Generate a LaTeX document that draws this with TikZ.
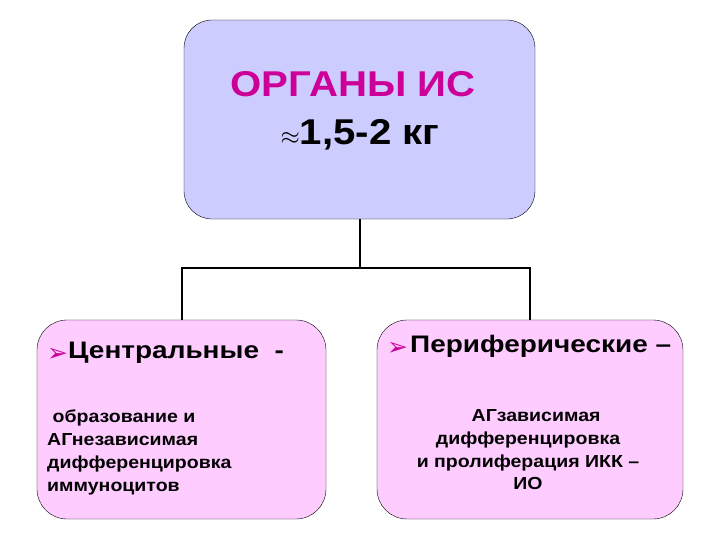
\documentclass[tikz,border=0pt]{standalone}
\usepackage{fontspec}
\setmainfont{Liberation Sans}[FakeStretch=1.12]
\newfontfamily\headfont{Liberation Sans}[FakeStretch=1.17]
\newfontfamily\dingfont{DejaVu Sans}
\usetikzlibrary{calc, positioning}
\definecolor{IS-magenta}{RGB}{204,0,153}
\definecolor{IS-lavender}{RGB}{204,204,255}
\definecolor{IS-pink}{RGB}{255,204,255}
\tikzset{%
    organbox/.style={%
        rectangle,
        fill=IS-lavender,
        draw=black, thin,
        rounded corners=28bp,
        minimum width=351bp,
        minimum height=199bp,
    },
    groupbox/.style={%
        rectangle,
        fill=IS-pink,
        draw=black, thin,
        rounded corners=30bp,
        minimum height=199bp,
    },
    link/.style={%
        draw=black,
        line width=2bp,
    },
    heading/.style={%
        inner sep=0pt,
        anchor=base west,
        font=\headfont\bfseries\fontsize{24}{28}\selectfont,
    },
    bodytext/.style={%
        inner sep=0pt,
        font=\bfseries\fontsize{17.5}{23}\selectfont,
    },
    bullet/.style={%
        inner sep=0pt,
        anchor=base west,
        text=IS-magenta,
        font=\dingfont\fontsize{25}{28}\selectfont,
    },
}

\begin{document}
\begin{tikzpicture}[x=1bp, y=-1bp]
  \useasboundingbox[fill=white] (0,0) rectangle (720,540);

  \node [organbox] at (359.5, 119.5) (organs) {};
  \node [groupbox, minimum width=289bp] at (181.5, 419.5) (central) {};
  \node [groupbox, minimum width=306bp] at (530, 419.5) (peripheral) {};

  % title
  \node [inner sep=0pt, anchor=base, text=IS-magenta,
         font=\bfseries\fontsize{36}{40}\selectfont] at (353, 97) (title) {ОРГАНЫ ИС};
  \node [inner sep=0pt, anchor=base,
         font=\bfseries\fontsize{36}{40}\selectfont] at (360, 145) (mass) {$\approx$1,5-2 кг};

  % central organs
  \node [bullet] at (47, 361) (central_mark) {➢};
  \node [heading] at (68, 358) (central_head) {Центральные~~-};
  \node [bodytext, anchor=north west, align=left] at (47, 410) (central_text)
    {~образование и\\АГнезависимая\\дифференцировка\\иммуноцитов};

  % peripheral organs
  \node [bullet] at (387, 355) (peripheral_mark) {➢};
  \node [heading] at (410, 352) (peripheral_head) {Периферические –};
  \node [bodytext, anchor=north, align=center] at (528, 409) (peripheral_text)
    {~~~АГзависимая\\дифференцировка\\и пролиферация ИКК –\\ИО};

  \draw[link] (organs.south) -- ++(0, 49) coordinate (fork);
  \draw[link] (fork) -| (central.north);
  \draw[link] (fork) -| (peripheral.north);
\end{tikzpicture}
\end{document}
